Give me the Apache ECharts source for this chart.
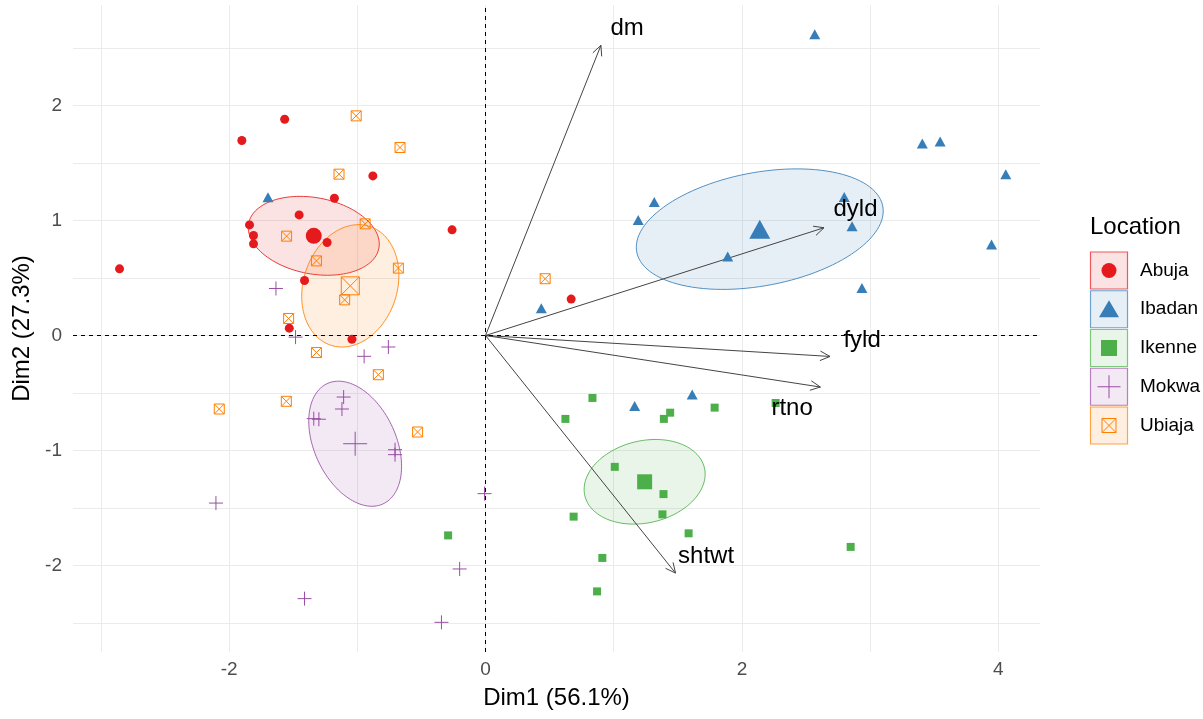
<!DOCTYPE html>
<html>
<head>
<meta charset="utf-8">
<script src="https://cdn.jsdelivr.net/npm/echarts@6/dist/echarts.min.js"></script>
<style>html,body{margin:0;padding:0;background:#fff}#chart{width:1203px;height:719px}</style>
</head>
<body>
<div id="chart"></div>
<script>
// ---------- data ----------
const locations = ['Abuja', 'Ibadan', 'Ikenne', 'Mokwa', 'Ubiaja'];

const abuja = [[-1.567,1.881],[-1.901,1.696],[-0.879,1.388],[-1.179,1.194],[-1.454,1.049],[-1.841,0.962],[-1.810,0.870],[-1.810,0.797],[-1.236,0.809],[-0.261,0.919],[-2.855,0.580],[-1.412,0.478],[-1.531,0.064],[-1.042,-0.032],[0.668,0.317]];
const ibadan = [[2.568,2.619],[3.407,1.670],[3.546,1.688],[4.058,1.402],[1.316,1.161],[1.191,1.004],[2.798,1.205],[2.859,0.951],[1.889,0.686],[3.947,0.791],[2.936,0.413],[0.435,0.238],[1.163,-0.613],[1.612,-0.512],[-1.697,1.203]];
const ikenne = [[0.834,-0.543],[0.623,-0.725],[1.440,-0.671],[1.391,-0.725],[1.787,-0.627],[2.263,-0.587],[1.008,-1.142],[1.388,-1.379],[1.380,-1.555],[0.687,-1.575],[1.584,-1.720],[2.848,-1.838],[0.911,-1.934],[0.870,-2.225],[-0.292,-1.738]];
const mokwa = [[-1.635,0.409],[-1.482,-0.014],[-0.758,-0.100],[-0.947,-0.181],[-1.107,-0.535],[-1.120,-0.639],[-1.340,-0.723],[-1.300,-0.728],[-0.706,-0.993],[-0.706,-1.036],[-2.103,-1.457],[-0.008,-1.375],[-0.202,-2.030],[-1.412,-2.288],[-0.344,-2.494]];
const ubiaja = [[-1.009,1.910],[-0.667,1.635],[-1.143,1.403],[-0.939,0.971],[-1.552,0.864],[-1.319,0.649],[-0.680,0.586],[-1.099,0.310],[-1.536,0.148],[-1.319,-0.148],[-0.836,-0.341],[-1.554,-0.572],[-2.077,-0.639],[-0.530,-0.839],[0.465,0.494]];

const centroidX = [-1.340, 2.139, 1.241, -1.017, -1.055];
const centroidY = [0.867, 0.925, -1.272, -0.941, 0.432];

// confidence ellipses: half extent along x and y (data units) and x-y coupling
const ellipseHalfX = [0.511, 0.963, 0.472, 0.362, 0.379];
const ellipseHalfY = [0.343, 0.524, 0.368, 0.544, 0.532];
const ellipseCoupling = [-0.21, 0.30, 0.18, -0.36, 0.17];

const variables = ['dm', 'dyld', 'fyld', 'rtno', 'shtwt'];
const loadingX = [0.900, 2.640, 2.687, 2.612, 1.482];
const loadingY = [2.523, 0.937, -0.182, -0.448, -2.066];
const varLabelX = [1.104, 2.886, 2.937, 2.391, 1.720];
const varLabelY = [2.674, 1.100, -0.039, -0.630, -1.917];

const xTickLabels = [-2, 0, 2, 4];
const yTickLabels = [-2, -1, 0, 1, 2];
const xGridValues = [-3, -2, -1, 0, 1, 2, 3, 4];
const yGridValues = [-2.5, -2, -1.5, -1, -0.5, 0, 0.5, 1, 1.5, 2, 2.5];

// ---------- styling ----------
const groups = [abuja, ibadan, ikenne, mokwa, ubiaja];
const colors = ['#E41A1C', '#377EB8', '#4DAF4A', '#984EA3', '#FF7F00'];
const FONT = '"Liberation Sans", Arial, sans-serif';
const PLUS = 'path://M0,5L10,5M5,0L5,10';
const BOXX = 'path://M0,0L10,0L10,10L0,10Z M0,0L10,10 M10,0L0,10';
const marks = [
  {symbol: 'circle', size: 9, csize: 16, filled: true},
  {symbol: 'triangle', size: [11, 10], csize: [21, 19], filled: true},
  {symbol: 'rect', size: 8, csize: 15, filled: true},
  {symbol: PLUS, size: 14, csize: 24, filled: false},
  {symbol: BOXX, size: 10, csize: 18, filled: false}
];

function hexA(hex, a) {
  const n = parseInt(hex.slice(1), 16);
  return 'rgba(' + ((n >> 16) & 255) + ',' + ((n >> 8) & 255) + ',' + (n & 255) + ',' + a + ')';
}

const series = [];

// ellipses
series.push({
  type: 'custom',
  z: 1,
  silent: true,
  clip: true,
  data: locations.map((l, i) => [centroidX[i], centroidY[i], ellipseHalfX[i], ellipseHalfY[i], ellipseCoupling[i], i]),
  renderItem: function (params, api) {
    const cx = api.value(0), cy = api.value(1), wx = api.value(2), hy = api.value(3), rho = api.value(4), gi = api.value(5);
    const s = Math.sqrt(1 - rho * rho);
    const pts = [];
    for (let k = 0; k < 120; k++) {
      const t = 2 * Math.PI * k / 120;
      pts.push(api.coord([cx + wx * Math.cos(t), cy + hy * (rho * Math.cos(t) + s * Math.sin(t))]));
    }
    return {
      type: 'polygon',
      shape: {points: pts},
      style: {fill: hexA(colors[gi], 0.12), stroke: hexA(colors[gi], 0.85), lineWidth: 1}
    };
  },
  markLine: {
    silent: true,
    symbol: ['none', 'none'],
    label: {show: false},
    lineStyle: {type: [4, 4], color: '#000', width: 1, opacity: 1},
    emphasis: {disabled: true},
    data: [{xAxis: 0}, {yAxis: 0}]
  }
});

// variable arrows
series.push({
  type: 'custom',
  z: 3,
  silent: true,
  data: variables.map((v, i) => [loadingX[i], loadingY[i]]),
  renderItem: function (params, api) {
    const o = api.coord([0, 0]);
    const p = api.coord([api.value(0), api.value(1)]);
    const ang = Math.atan2(p[1] - o[1], p[0] - o[0]);
    const L = 11, a = Math.PI / 7;
    const h1 = [p[0] - L * Math.cos(ang - a), p[1] - L * Math.sin(ang - a)];
    const h2 = [p[0] - L * Math.cos(ang + a), p[1] - L * Math.sin(ang + a)];
    return {
      type: 'group',
      children: [
        {type: 'line', shape: {x1: o[0], y1: o[1], x2: p[0], y2: p[1]}, style: {stroke: '#444', lineWidth: 1}},
        {type: 'polyline', shape: {points: [h1, p, h2]}, style: {stroke: '#444', lineWidth: 1, fill: null}}
      ]
    };
  }
});

// points per location (individuals + mean point)
groups.forEach((pts, i) => {
  const m = marks[i];
  const itemStyle = m.filled
    ? {color: colors[i], opacity: 1}
    : {color: 'none', borderColor: colors[i], borderWidth: 1, opacity: 1};
  const data = pts.map(p => ({value: p}));
  data.push({value: [centroidX[i], centroidY[i]], symbolSize: m.csize});
  series.push({
    type: 'scatter',
    name: locations[i],
    z: 4,
    silent: true,
    symbol: m.symbol,
    symbolSize: m.size,
    itemStyle: itemStyle,
    emphasis: {disabled: true},
    data: data
  });
});

// variable labels
series.push({
  type: 'custom',
  z: 5,
  silent: true,
  data: variables.map((v, i) => [varLabelX[i], varLabelY[i], i]),
  renderItem: function (params, api) {
    const p = api.coord([api.value(0), api.value(1)]);
    return {
      type: 'text',
      x: p[0], y: p[1],
      style: {text: variables[api.value(2)], fontSize: 24, fontFamily: FONT, fill: '#000', align: 'center', verticalAlign: 'middle'}
    };
  }
});

// legend (drawn as graphic)
const graphic = [];
graphic.push({type: 'text', x: 1090, y: 227, style: {text: 'Location', fontSize: 24, fontFamily: FONT, fill: '#000', verticalAlign: 'middle'}});
locations.forEach((loc, i) => {
  const cy = 270.5 + i * 38.75;
  const cx = 1109;
  const col = colors[i];
  graphic.push({type: 'rect', shape: {x: 1090.5, y: cy - 18.5, width: 37, height: 37},
    style: {fill: hexA(col, 0.12), stroke: hexA(col, 0.7), lineWidth: 1.2}});
  if (i === 0) {
    graphic.push({type: 'circle', shape: {cx: cx, cy: cy, r: 7.5}, style: {fill: col}});
  } else if (i === 1) {
    graphic.push({type: 'polygon', shape: {points: [[cx, cy - 9], [cx + 10, cy + 8], [cx - 10, cy + 8]]}, style: {fill: col}});
  } else if (i === 2) {
    graphic.push({type: 'rect', shape: {x: cx - 8, y: cy - 8, width: 16, height: 16}, style: {fill: col}});
  } else if (i === 3) {
    graphic.push({type: 'line', shape: {x1: cx - 11.5, y1: cy, x2: cx + 11.5, y2: cy}, style: {stroke: col, lineWidth: 1}});
    graphic.push({type: 'line', shape: {x1: cx, y1: cy - 11.5, x2: cx, y2: cy + 11.5}, style: {stroke: col, lineWidth: 1}});
  } else {
    graphic.push({type: 'rect', shape: {x: cx - 7, y: cy - 7, width: 14, height: 14}, style: {fill: null, stroke: col, lineWidth: 1}});
    graphic.push({type: 'polyline', shape: {points: [[cx - 7, cy - 7], [cx + 7, cy + 7]]}, style: {fill: null, stroke: col, lineWidth: 1}});
    graphic.push({type: 'polyline', shape: {points: [[cx + 7, cy - 7], [cx - 7, cy + 7]]}, style: {fill: null, stroke: col, lineWidth: 1}});
  }
  graphic.push({type: 'text', x: 1140, y: cy, style: {text: loc, fontSize: 19, fontFamily: FONT, fill: '#000', verticalAlign: 'middle'}});
});

const chart = echarts.init(document.getElementById('chart'), null, {renderer: 'canvas'});
chart.setOption({
  animation: false,
  backgroundColor: '#fff',
  grid: {left: 73, right: 163, top: 5, bottom: 67, containLabel: false},
  xAxis: {
    type: 'value',
    min: -3.218, max: 4.325,
    name: 'Dim1 (56.1%)',
    nameLocation: 'middle',
    nameGap: 34,
    nameTextStyle: {fontSize: 24, fontFamily: FONT, color: '#000'},
    axisLine: {show: false},
    axisTick: {show: false, customValues: xGridValues},
    axisLabel: {customValues: xTickLabels, fontSize: 19, fontFamily: FONT, color: '#4D4D4D', margin: 8},
    splitLine: {show: true, lineStyle: {color: '#EBEBEB', width: 1}}
  },
  yAxis: {
    type: 'value',
    min: -2.752, max: 2.874,
    name: 'Dim2 (27.3%)',
    nameLocation: 'middle',
    nameGap: 33,
    nameTextStyle: {fontSize: 24, fontFamily: FONT, color: '#000'},
    axisLine: {show: false},
    axisTick: {show: false, customValues: yGridValues},
    axisLabel: {customValues: yTickLabels, fontSize: 19, fontFamily: FONT, color: '#4D4D4D', margin: 11},
    splitLine: {show: true, lineStyle: {color: '#EBEBEB', width: 1}}
  },
  graphic: graphic,
  series: series
});
</script>
</body>
</html>
